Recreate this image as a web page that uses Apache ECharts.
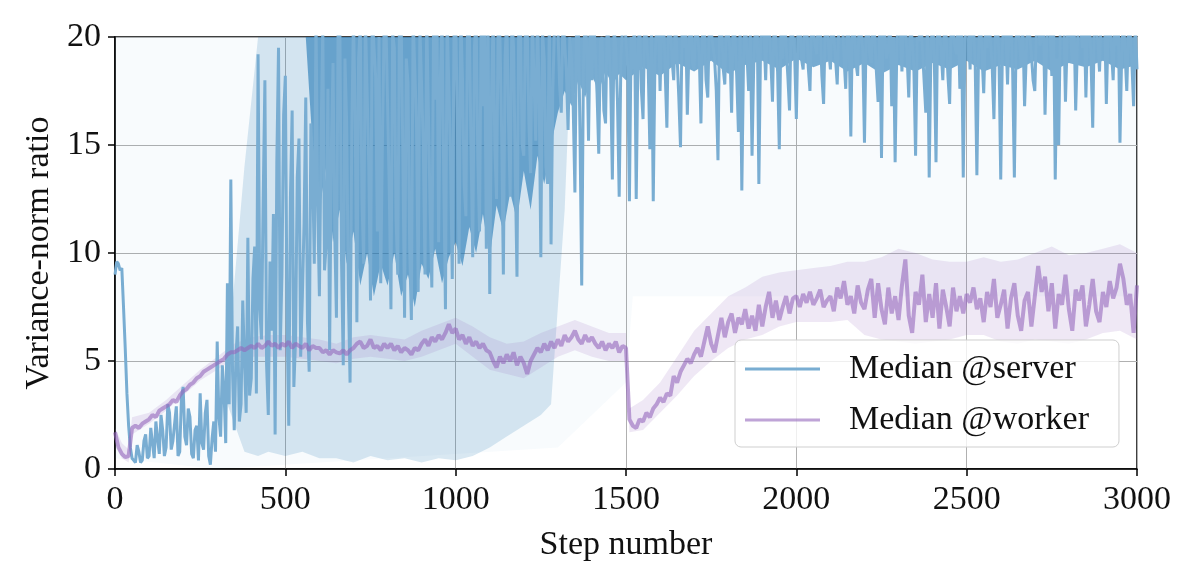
<!DOCTYPE html>
<html>
<head>
<meta charset="utf-8">
<script src="https://cdn.jsdelivr.net/npm/echarts/dist/echarts.min.js"></script>
<style>
  html, body { margin: 0; padding: 0; background: #fff; }
  #chart { width: 1196px; height: 583px; }
</style>
</head>
<body>
<div id="chart"></div>
<script>
// tick labels
var xTicks = [0, 500, 1000, 1500, 2000, 2500, 3000];
var yTicks = [0, 5, 10, 15, 20];

// server median, one value every 5 steps (0 .. 3000)
var SERVER_STEP = 5;
var serverMedian = [
  9.0, 9.6, 9.5, 9.2, 9.3, 7.5, 5.6, 3.5, 2.0, 1.0, 0.5, 0.4, 0.3, 1.1, 0.8, 0.3, 0.4, 1.3, 1.6, 0.5,
  0.6, 1.9, 1.2, 0.5, 2.2, 1.4, 0.7, 2.5, 1.8, 0.6, 1.0, 3.0, 2.6, 0.9, 1.3, 2.1, 2.9, 0.6, 0.8, 3.3,
  3.8, 1.5, 1.1, 2.8, 2.4, 0.7, 0.5, 1.8, 2.0, 0.4, 3.5, 1.2, 0.9, 2.6, 3.2, 0.6, 0.2, 1.4, 2.2, 0.8,
  5.9, 2.4, 1.5, 4.8, 3.6, 1.2, 8.6, 3.0, 13.4, 4.5, 1.8, 5.2, 6.6, 2.2, 3.0, 7.8, 5.0, 2.6, 10.7, 3.4,
  4.2, 8.8, 10.3, 3.5, 19.2, 7.4, 6.0, 12.5, 18.0, 4.8, 2.5, 9.6, 6.4, 11.8, 1.6, 14.2, 19.5, 5.5, 9.0, 16.4,
  18.2, 7.0, 2.0, 12.6, 16.6, 3.8, 6.0, 13.5, 15.3, 5.2, 8.0, 11.4, 17.2, 6.8, 4.5, 16.0, 14.0, 9.5, 21.0, 12.2,
  8.0, 15.5, 20.5, 9.2, 10.4, 17.6, 5.5, 14.8, 18.8, 11.0, 7.0, 21.0, 20.8, 9.6, 4.8, 19.0, 16.0, 8.2, 4.0, 15.6,
  21.0, 16.5, 6.8, 19.0, 20.5, 12.4, 9.5, 21.0, 17.5, 14.0, 7.8, 21.0, 21.0, 18.2, 11.0, 20.0, 8.6, 15.2, 20.5, 21.0,
  21.0, 13.0, 7.4, 20.2, 19.5, 11.6, 9.0, 21.0, 20.8, 14.5, 7.0, 19.0, 17.9, 10.2, 6.9, 21.0, 21.0, 16.0, 8.2, 20.5,
  20.5, 15.0, 9.0, 21.0, 21.0, 12.0, 8.4, 20.5, 17.1, 21.0, 10.5, 18.0, 20.8, 13.5, 7.4, 21.0, 21.0, 14.2, 8.8, 20.0,
  21.0, 16.0, 9.5, 21.0, 18.1, 13.2, 11.7, 21.0, 20.5, 15.0, 9.8, 19.5, 21.0, 14.4, 11.0, 21.0, 16.8, 21.0, 10.2, 20.5,
  8.1, 17.0, 21.0, 14.8, 12.5, 21.0, 20.0, 15.5, 9.0, 19.0, 21.0, 16.2, 12.6, 21.0, 19.5, 13.8, 8.9, 20.5, 21.0, 15.0,
  14.5, 21.0, 20.5, 16.0, 13.7, 21.0, 18.0, 15.2, 21.0, 17.5, 9.8, 20.2, 19.0, 14.0, 13.2, 21.0, 10.4, 17.4, 20.5, 21.0,
  20.5, 17.8, 16.5, 21.0, 21.0, 18.4, 15.7, 20.0, 19.0, 16.8, 12.8, 21.0, 20.8, 15.5, 8.5, 18.6, 21.0, 19.5, 15.2, 21.0,
  18.0, 21.0, 21.0, 17.4, 14.6, 19.8, 20.0, 16.6, 16.0, 21.0, 21.0, 18.0, 13.4, 20.4, 19.5, 17.0, 12.6, 19.0, 20.5, 21.0,
  21.0, 18.6, 12.4, 20.0, 18.5, 21.0, 12.5, 19.2, 20.8, 17.6, 16.2, 21.0, 21.0, 18.8, 14.8, 20.2, 12.4, 19.0, 20.5, 21.0,
  17.5, 20.6, 21.0, 18.4, 15.8, 21.0, 20.5, 19.0, 18.0, 21.0, 21.0, 17.2, 14.9, 20.8, 19.5, 21.0, 16.4, 19.6, 21.0, 18.8,
  18.5, 21.0, 21.0, 19.2, 16.0, 20.4, 20.5, 18.0, 17.2, 21.0, 21.0, 19.6, 19.0, 17.5, 14.3, 21.0, 20.8, 18.6, 17.8, 21.0,
  21.0, 19.4, 16.5, 21.0, 20.0, 18.2, 15.6, 20.6, 12.9, 19.0, 21.0, 21.0, 17.5, 20.2, 14.5, 18.8, 20.5, 21.0, 13.2, 19.6,
  21.0, 20.2, 18.0, 21.0, 20.5, 19.0, 17.0, 21.0, 21.0, 18.4, 14.8, 20.6, 19.0, 21.0, 21.0, 18.2, 16.6, 21.0, 20.0, 19.2,
  16.2, 20.4, 21.0, 19.0, 18.5, 21.0, 20.8, 18.6, 17.5, 21.0, 21.0, 19.6, 19.2, 21.0, 20.5, 18.2, 16.9, 20.6, 21.0, 19.4,
  18.5, 21.0, 21.0, 19.0, 17.8, 20.6, 20.5, 21.0, 19.0, 17.6, 21.0, 19.8, 15.4, 21.0, 20.8, 18.8, 18.2, 21.0, 21.0, 19.4,
  15.1, 20.2, 21.0, 19.2, 18.8, 21.0, 20.0, 18.4, 17.0, 20.6, 14.4, 21.0, 21.0, 19.0, 19.5, 21.0, 16.8, 20.0, 14.2, 19.6,
  21.0, 20.4, 18.4, 21.0, 20.5, 19.2, 17.2, 21.0, 21.0, 18.6, 14.5, 20.0, 19.8, 21.0, 21.0, 18.0, 16.5, 20.8, 13.5, 19.4,
  20.8, 19.0, 14.2, 21.0, 21.0, 19.4, 18.0, 20.6, 20.0, 18.2, 16.9, 21.0, 21.0, 19.6, 19.2, 21.0, 17.6, 20.2, 13.5, 19.8,
  21.0, 20.6, 18.5, 21.0, 20.5, 18.8, 13.6, 19.4, 21.0, 21.0, 17.4, 20.2, 19.5, 21.0, 21.0, 18.6, 16.2, 20.4, 20.8, 19.0,
  13.4, 19.6, 21.0, 20.2, 17.8, 21.0, 20.5, 18.4, 13.5, 19.8, 21.0, 21.0, 18.6, 20.4, 16.8, 19.2, 21.0, 21.0, 19.2, 18.0,
  17.5, 20.4, 21.0, 19.6, 20.0, 21.0, 16.4, 19.8, 21.0, 20.2, 18.2, 21.0, 13.4, 19.0, 15.0, 20.6, 20.5, 21.0, 17.0, 19.8,
  21.0, 20.0, 18.8, 21.0, 16.6, 19.6, 21.0, 20.4, 19.5, 21.0, 17.2, 20.6, 20.8, 19.0, 15.8, 21.0, 21.0, 19.8, 18.4, 21.0,
  20.5, 21.0, 16.9, 20.2, 21.0, 19.4, 18.0, 21.0, 19.6, 20.8, 15.1, 19.2, 21.0, 21.0, 17.5, 20.4, 20.2, 18.8, 16.8, 20.6,
  18.5
];

// where the server median is so dense it reads as a solid mass (up to 20)
var serverCoreSteps = [
  560, 580, 600, 620, 640, 660, 680, 700, 720, 740, 760, 780, 800, 820, 840, 860,
  880, 900, 920, 940, 960, 980, 1000, 1020, 1040, 1060, 1080, 1100, 1120, 1140,
  1160, 1180, 1200, 1220, 1240, 1260, 1280, 1300, 1320, 1340, 1360, 1380, 1400,
  1420, 1440, 1460, 1480, 1500, 1550, 1600, 1650, 1700, 1750, 1800, 1850, 1900,
  1950, 2000, 2050, 2100, 2150, 2200, 2250, 2300, 2350, 2400, 2450, 2500, 2550,
  2600, 2650, 2700, 2750, 2800, 2850, 2900, 2950, 3000
];
var serverCoreLow = [
  20, 15.0, 12.0, 14.0, 10.5, 12.0, 9.5, 11.0, 8.5, 10.0, 8.0, 9.5, 8.5, 10.0, 8.0, 9.0,
  7.5, 9.5, 8.8, 10.2, 8.6, 9.8, 10.5, 9.4, 11.2, 10.0, 11.8, 9.8, 12.2, 11.0,
  12.8, 11.5, 13.8, 12.0, 14.5, 13.2, 15.0, 16.5, 17.5, 16.8, 18.0, 17.2, 18.2,
  17.5, 18.4, 17.8, 18.3, 18.0, 18.6, 18.2, 18.8, 18.4, 18.9, 18.3, 18.7, 18.9,
  18.5, 19.0, 18.6, 18.9, 18.4, 18.8, 18.3, 18.7, 18.4, 18.8, 18.5, 18.9, 18.4,
  18.7, 18.5, 18.9, 18.4, 18.8, 18.6, 18.9, 18.5, 18.7
];

// worker median, one value every 10 steps (0 .. 3000)
var WORKER_STEP = 10;
var workerMedian = [
  1.7, 1.0, 0.7, 0.55, 0.6, 1.9, 2.0, 1.9, 2.1, 2.2,
  2.3, 2.5, 2.4, 2.7, 2.8, 2.9, 3.0, 3.2, 3.1, 3.4,
  3.6, 3.7, 3.9, 4.0, 4.2, 4.3, 4.5, 4.6, 4.7, 4.8,
  4.9, 5.0, 5.1, 5.3, 5.4, 5.4, 5.5, 5.6, 5.5, 5.6,
  5.7, 5.6, 5.8, 5.6, 5.7, 5.9, 5.7, 5.8, 5.6, 5.8,
  5.7, 5.9, 5.6, 5.8, 5.7, 5.6, 5.8, 5.5, 5.7, 5.6,
  5.6, 5.4, 5.5, 5.3, 5.5, 5.4, 5.35, 5.5, 5.3, 5.5,
  5.6, 5.8, 5.9, 5.6, 5.7, 6.0, 5.6, 5.7, 5.5, 5.8,
  5.6, 5.8, 5.5, 5.7, 5.4, 5.6, 5.5, 5.3, 5.6, 5.5,
  5.8, 6.0, 5.7, 6.1, 5.9, 6.2, 6.0, 6.3, 6.7, 6.3,
  6.5, 6.0, 6.2, 5.8, 6.1, 5.7, 5.9, 5.6, 5.8, 5.5,
  5.4, 5.0, 4.7, 5.2, 4.9, 5.3, 5.0, 5.4, 4.8, 5.2,
  4.9, 4.4, 5.0, 5.3, 5.6, 5.4, 5.8, 5.5, 5.9, 5.6,
  6.0, 5.7, 6.2, 5.9, 6.1, 6.4, 6.0, 5.8, 6.2, 5.9,
  6.1, 5.8, 5.6, 5.9, 5.5, 5.8, 5.6, 5.9, 5.4, 5.7,
  5.6, 2.3, 2.0, 1.9, 2.3, 2.2, 2.6, 2.4, 2.8, 3.0,
  3.3, 3.1, 3.5, 3.4, 4.3, 4.0, 4.5, 4.8, 5.1, 4.9,
  5.3, 5.6, 5.2, 5.9, 6.6, 5.8, 5.4, 6.2, 7.0, 6.1,
  6.8, 7.2, 6.3, 7.0, 6.7, 7.4, 6.5, 7.1, 6.4, 7.6,
  6.6, 7.5, 8.2, 7.0, 7.8, 6.9, 7.5, 8.0, 7.2, 7.9,
  8.0, 7.5, 8.1, 7.7, 8.2, 7.6, 7.9, 8.3, 7.5, 7.8,
  8.0, 7.3, 8.4, 7.9, 8.7, 7.6, 8.0, 7.2, 8.5, 7.7,
  7.4, 8.3, 8.8, 7.0, 8.6, 7.4, 6.7, 8.4, 7.2, 8.0,
  6.9, 8.5, 9.7, 7.1, 6.3, 8.2, 7.6, 9.0, 6.8, 8.1,
  7.0, 8.6, 6.5, 8.3, 7.5, 6.6, 8.4, 7.3, 8.0, 7.2,
  8.1, 7.7, 8.4, 7.4, 7.9, 6.8, 8.2, 7.5, 8.8, 7.0,
  7.6, 8.3, 6.5, 7.9, 8.6, 7.1, 6.4, 7.8, 8.2, 6.6,
  8.0, 9.4, 8.2, 8.9, 7.3, 8.6, 6.5, 8.1, 7.6, 9.0,
  7.4, 6.4, 8.3, 7.8, 8.5, 6.6, 7.6, 8.8, 7.3, 6.8,
  8.2, 7.5, 8.7, 7.9, 8.4, 9.5, 8.8, 7.6, 8.1, 6.3, 8.5
];

// dense spread of the server runs (steps 330 .. 1340)
var serverBandSteps = [
  330, 380, 420, 450, 500, 550, 600, 650, 700, 750, 800, 850, 900, 950,
  1000, 1050, 1100, 1150, 1200, 1250, 1280, 1320, 1340
];
var serverBandLow = [
  3.0, 0.8, 0.6, 0.8, 0.6, 0.8, 0.5, 0.5, 0.3, 0.6, 0.4, 0.5, 0.3, 0.5,
  0.4, 0.6, 1.0, 1.5, 2.0, 2.5, 3.0, 12.0, 20
];
var serverBandHigh = [
  5.0, 14.0, 20, 20, 20, 20, 20, 20, 20, 20, 20, 20, 20, 20,
  20, 20, 20, 20, 20, 20, 20, 20, 20
];

// faint outer spread of the server runs
var serverFaintSteps = [0, 300, 1300, 1500, 1520, 3000];
var serverFaintLow = [0.5, 0, 1.0, 4.0, 8.0, 8.0];

// shaded spread of the worker runs
var workerBandSteps = [
  0, 20, 40, 50, 100, 150, 200, 250, 300, 350, 400, 450, 500, 550, 600, 650, 700,
  750, 800, 850, 900, 950, 1000, 1050, 1100, 1150, 1200, 1250, 1300, 1350, 1400,
  1450, 1500, 1510, 1550, 1600, 1650, 1700, 1750, 1800, 1850, 1900, 1950, 2000,
  2050, 2100, 2150, 2200, 2250, 2300, 2350, 2400, 2450, 2500, 2550, 2600, 2650,
  2700, 2750, 2800, 2850, 2900, 2950, 3000
];
var workerBandLow = [
  1.3, 0.5, 0.3, 1.6, 2.1, 2.7, 3.4, 4.1, 4.6, 5.1, 5.2, 5.2, 5.2, 5.1, 5.0, 4.9, 5.1,
  5.2, 5.1, 5.0, 5.2, 5.5, 5.8, 5.2, 4.6, 4.4, 4.2, 4.7, 5.2, 5.5, 5.2,
  5.0, 5.0, 1.7, 1.8, 2.6, 3.4, 4.3, 5.0, 5.6, 6.0, 6.2, 6.6, 6.8,
  6.8, 6.8, 6.9, 6.2, 6.0, 5.9, 5.8, 5.9, 6.0, 6.2, 6.2, 5.9, 5.8,
  6.0, 5.9, 5.8, 6.0, 6.3, 6.4, 6.0
];
var workerBandHigh = [
  1.9, 1.2, 0.9, 2.4, 2.6, 3.2, 3.9, 4.6, 5.2, 5.8, 6.1, 6.2, 6.2, 6.1, 6.0, 5.8, 6.1,
  6.2, 6.1, 6.0, 6.4, 6.7, 7.0, 6.6, 6.1, 5.8, 5.9, 6.3, 6.6, 6.9, 6.6,
  6.3, 6.3, 2.8, 3.2, 4.0, 5.2, 6.4, 7.2, 8.0, 8.4, 8.9, 9.1, 9.2,
  9.3, 9.4, 9.6, 9.6, 9.8, 10.2, 10.0, 9.7, 9.6, 9.6, 9.8, 9.6, 9.7,
  10.0, 10.3, 9.9, 10.0, 10.2, 10.4, 10.0
];

var FONT = 'Liberation Serif';
var SERVER_LINE = '#79add2';               // tab:blue at 60% on white
var SERVER_CORE = 'rgba(31,119,180,0.6)';  // same tint, lets grid show through
var Y_TOP = 20;

function medianPairs(ys, step) {
  var out = [];
  for (var i = 0; i < ys.length; i++) out.push([i * step, ys[i]]);
  return out;
}
function topOf(xs) {
  var out = [];
  for (var i = 0; i < xs.length; i++) out.push(Y_TOP);
  return out;
}
function bandRows(xs, lo, hi) {
  var out = [];
  for (var i = 0; i < xs.length; i++) out.push([xs[i], lo[i], hi[i]]);
  return out;
}
// one polygon for the whole band, placed with the axis scales
function bandRenderer(xs, lo, hi, fill) {
  return function (params, api) {
    if (params.dataIndexInside !== 0) return null;
    var pts = [];
    for (var i = 0; i < xs.length; i++) pts.push(api.coord([xs[i], hi[i]]));
    for (var j = xs.length - 1; j >= 0; j--) pts.push(api.coord([xs[j], lo[j]]));
    return { type: 'polygon', shape: { points: pts }, style: { fill: fill } };
  };
}
function bandSeries(name, xs, lo, hi, fill) {
  return {
    name: name, type: 'custom', silent: true, clip: true,
    data: bandRows(xs, lo, hi),
    encode: { x: 0, y: [1, 2] },
    renderItem: bandRenderer(xs, lo, hi, fill)
  };
}

var chart = echarts.init(document.getElementById('chart'));

var option = {
  animation: false,
  backgroundColor: '#fff',
  grid: {
    left: 115, right: 59, top: 37, bottom: 114,
    show: true, borderColor: '#000', borderWidth: 1.5
  },
  legend: {
    data: ['Median @server', 'Median @worker'],
    left: 735, top: 340,
    orient: 'vertical',
    icon: 'rect',
    itemWidth: 75, itemHeight: 3, itemGap: 17,
    padding: [12, 30, 10, 10],
    backgroundColor: 'rgba(255,255,255,0.8)',
    borderColor: '#cfcfcf', borderWidth: 1, borderRadius: 6,
    textStyle: { fontFamily: FONT, fontSize: 34, color: '#111', padding: [0, 0, 0, 24] }
  },
  xAxis: {
    type: 'value', min: 0, max: 3000, interval: 500,
    name: 'Step number', nameLocation: 'middle', nameGap: 59,
    nameTextStyle: { fontFamily: FONT, fontSize: 34, color: '#111' },
    axisLine: { show: true, lineStyle: { color: '#000', width: 1.5 } },
    axisTick: { show: true, length: 7, lineStyle: { color: '#000', width: 1.5 } },
    axisLabel: {
      fontFamily: FONT, fontSize: 34, color: '#111', margin: 14,
      formatter: function (v) { return xTicks.indexOf(v) >= 0 ? String(v) : ''; }
    },
    splitLine: { show: true, lineStyle: { color: '#b0b0b0', width: 1 } }
  },
  yAxis: {
    type: 'value', min: 0, max: Y_TOP, interval: 5,
    name: 'Variance-norm ratio', nameLocation: 'middle', nameGap: 58,
    nameTextStyle: { fontFamily: FONT, fontSize: 34, color: '#111' },
    axisLine: { show: true, lineStyle: { color: '#000', width: 1.5 } },
    axisTick: { show: true, length: 7, lineStyle: { color: '#000', width: 1.5 } },
    axisLabel: {
      fontFamily: FONT, fontSize: 34, color: '#111', margin: 14,
      formatter: function (v) { return yTicks.indexOf(v) >= 0 ? String(v) : ''; }
    },
    splitLine: { show: true, lineStyle: { color: '#b0b0b0', width: 1 } }
  },
  series: [
    bandSeries('server faint', serverFaintSteps, serverFaintLow, topOf(serverFaintSteps), 'rgba(31,119,180,0.03)'),
    bandSeries('server spread', serverBandSteps, serverBandLow, serverBandHigh, 'rgba(31,119,180,0.17)'),
    bandSeries('server core', serverCoreSteps, serverCoreLow, topOf(serverCoreSteps), SERVER_CORE),
    {
      name: 'Median @server', type: 'line', symbol: 'none',
      data: medianPairs(serverMedian, SERVER_STEP),
      lineStyle: { color: SERVER_LINE, width: 3 },
      itemStyle: { color: SERVER_LINE }
    },
    bandSeries('worker spread', workerBandSteps, workerBandLow, workerBandHigh, 'rgba(148,103,189,0.15)'),
    {
      name: 'Median @worker', type: 'line', symbol: 'none',
      data: medianPairs(workerMedian, WORKER_STEP),
      lineStyle: { color: 'rgba(148,103,189,0.6)', width: 4 },
      itemStyle: { color: 'rgba(148,103,189,0.6)' }
    }
  ]
};

chart.setOption(option);
</script>
</body>
</html>
